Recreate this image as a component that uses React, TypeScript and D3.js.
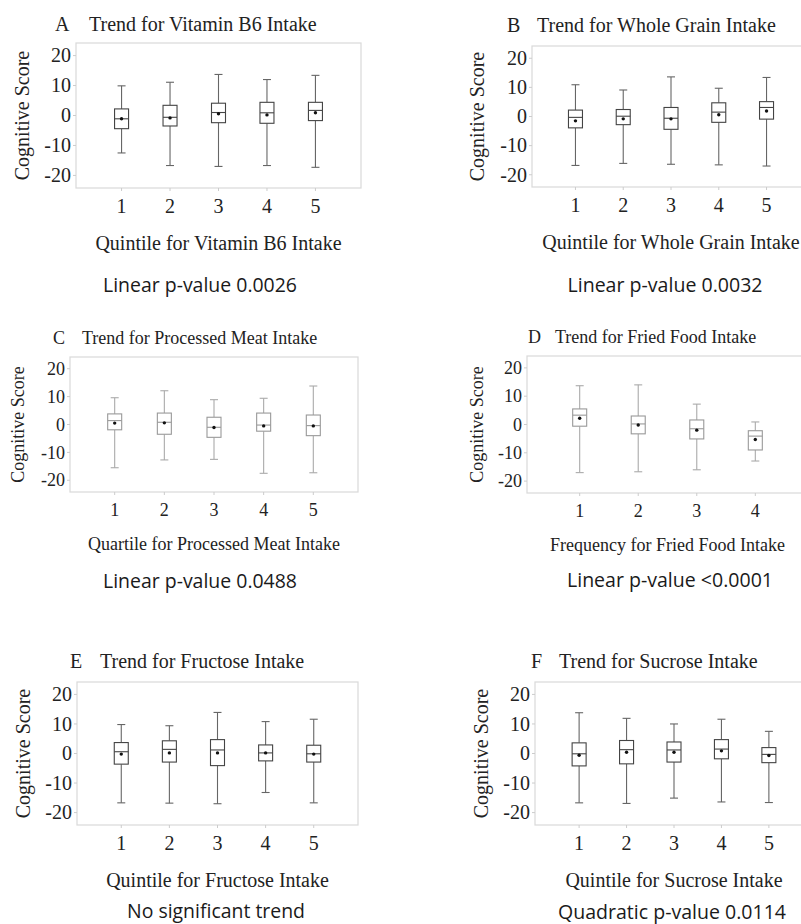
import * as d3 from "d3";
import React from "react";

// box statistics: whisker low, Q1, median, mean, Q3, whisker high
const vitaminB6 = [
  { lo: -12.5, q1: -4.4, med: -1.1, mean: -1.1, q3: 2.2, hi: 9.9 },
  { lo: -16.7, q1: -3.5, med: -0.6, mean: -0.8, q3: 3.4, hi: 11.1 },
  { lo: -17.0, q1: -2.4, med: 1.0, mean: 0.6, q3: 4.1, hi: 13.7 },
  { lo: -16.7, q1: -2.6, med: 0.9, mean: 0.2, q3: 4.4, hi: 12.0 },
  { lo: -17.3, q1: -1.7, med: 1.7, mean: 0.9, q3: 4.4, hi: 13.4 },
];
const wholeGrain = [
  { lo: -16.8, q1: -3.9, med: -0.3, mean: -1.5, q3: 2.2, hi: 10.9 },
  { lo: -16.1, q1: -2.8, med: 0.1, mean: -0.8, q3: 2.4, hi: 9.1 },
  { lo: -16.4, q1: -4.4, med: -0.6, mean: -0.8, q3: 3.1, hi: 13.6 },
  { lo: -16.6, q1: -2.0, med: 1.5, mean: 0.6, q3: 4.7, hi: 9.7 },
  { lo: -17.0, q1: -0.9, med: 3.1, mean: 1.9, q3: 5.1, hi: 13.4 },
];
const processedMeat = [
  { lo: -15.5, q1: -1.9, med: 1.4, mean: 0.5, q3: 3.8, hi: 9.6 },
  { lo: -12.7, q1: -3.5, med: 0.8, mean: 0.6, q3: 4.1, hi: 12.1 },
  { lo: -12.5, q1: -4.6, med: -1.0, mean: -1.1, q3: 2.6, hi: 8.9 },
  { lo: -17.5, q1: -2.4, med: -0.2, mean: -0.5, q3: 4.1, hi: 9.4 },
  { lo: -17.3, q1: -4.0, med: -0.4, mean: -0.5, q3: 3.4, hi: 13.8 },
];
const friedFood = [
  { lo: -17.0, q1: -0.6, med: 3.3, mean: 2.2, q3: 5.5, hi: 13.7 },
  { lo: -16.7, q1: -3.3, med: 0.2, mean: -0.2, q3: 3.0, hi: 14.0 },
  { lo: -16.0, q1: -5.1, med: -1.5, mean: -2.0, q3: 1.6, hi: 7.2 },
  { lo: -12.9, q1: -9.0, med: -4.1, mean: -5.3, q3: -2.2, hi: 0.9 },
];
const fructose = [
  { lo: -16.7, q1: -3.6, med: 0.6, mean: -0.2, q3: 3.7, hi: 9.8 },
  { lo: -16.8, q1: -2.9, med: 1.4, mean: 0.2, q3: 4.3, hi: 9.4 },
  { lo: -17.0, q1: -4.1, med: 1.2, mean: 0.2, q3: 4.7, hi: 13.9 },
  { lo: -13.2, q1: -2.5, med: 0.2, mean: 0.2, q3: 2.9, hi: 10.8 },
  { lo: -16.7, q1: -2.9, med: -0.1, mean: -0.2, q3: 2.8, hi: 11.6 },
];
const sucrose = [
  { lo: -16.7, q1: -4.2, med: -0.1, mean: -0.6, q3: 3.6, hi: 13.8 },
  { lo: -16.9, q1: -3.5, med: 1.3, mean: 0.4, q3: 4.4, hi: 11.9 },
  { lo: -15.1, q1: -2.9, med: 1.2, mean: 0.4, q3: 3.9, hi: 10.0 },
  { lo: -16.4, q1: -1.8, med: 1.5, mean: 0.9, q3: 4.7, hi: 11.6 },
  { lo: -16.6, q1: -3.1, med: -0.3, mean: -0.7, q3: 2.0, hi: 7.5 },
];

const yTicks = [-20, -10, 0, 10, 20];
const quintiles = ["1", "2", "3", "4", "5"];
const frequencies = ["1", "2", "3", "4"];

const serif = "'Liberation Serif', 'Times New Roman', serif";
const sans = "'Open Sans', 'Noto Sans', sans-serif";

const panels = [
  {
    letter: "A", title: "Trend for Vitamin B6 Intake", xLabel: "Quintile for Vitamin B6 Intake",
    note: "Linear p-value 0.0026", stats: vitaminB6, cats: quintiles,
    left: 76, right: 361, top: 43, bottom: 188, xPad: 0.94, fs: 20, box: "#444", whisker: "#666",
    letterX: 55, titleX: 89, titleY: 31, yLabX: 29, noteX: 200, noteY: 292, noteW: 194,
  },
  {
    letter: "B", title: "Trend for Whole Grain Intake", xLabel: "Quintile for Whole Grain Intake",
    note: "Linear p-value 0.0032", stats: wholeGrain, cats: quintiles,
    left: 532, right: 810, top: 46, bottom: 187, xPad: 0.91, fs: 20, box: "#444", whisker: "#666",
    letterX: 507, titleX: 537, titleY: 32, yLabX: 484, noteX: 665, noteY: 292, noteW: 195,
  },
  {
    letter: "C", title: "Trend for Processed Meat Intake", xLabel: "Quartile for Processed Meat Intake",
    note: "Linear p-value 0.0488", stats: processedMeat, cats: quintiles,
    left: 70, right: 358, top: 357, bottom: 492, xPad: 0.9, fs: 18, box: "#999", whisker: "#aaa",
    letterX: 53, titleX: 82, titleY: 344, yLabX: 24, noteX: 200, noteY: 588, noteW: 194,
  },
  {
    letter: "D", title: "Trend for Fried Food Intake", xLabel: "Frequency for Fried Food Intake",
    note: "Linear p-value <0.0001", stats: friedFood, cats: frequencies,
    left: 527, right: 808, top: 356, bottom: 493, xPad: 0.9, fs: 18, box: "#999", whisker: "#aaa",
    letterX: 528, titleX: 555, titleY: 343, yLabX: 483, noteX: 670, noteY: 587, noteW: 206,
  },
  {
    letter: "E", title: "Trend for Fructose Intake", xLabel: "Quintile for Fructose Intake",
    note: "No significant trend", stats: fructose, cats: quintiles,
    left: 77, right: 358, top: 682, bottom: 825, xPad: 0.92, fs: 20, box: "#444", whisker: "#666",
    letterX: 70, titleX: 100, titleY: 668, yLabX: 30, noteX: 216, noteY: 918, noteW: 178,
  },
  {
    letter: "F", title: "Trend for Sucrose Intake", xLabel: "Quintile for Sucrose Intake",
    note: "Quadratic p-value 0.0114", stats: sucrose, cats: quintiles,
    left: 535, right: 813, top: 682, bottom: 825, xPad: 0.93, fs: 20, box: "#444", whisker: "#666",
    letterX: 531, titleX: 559, titleY: 668, yLabX: 488, noteX: 672, noteY: 919, noteW: 228,
  },
];

const BoxPanel = ({ p }) => {
  const n = p.cats.length;
  const x = d3.scaleLinear().domain([1 - p.xPad, n + p.xPad]).range([p.left, p.right]);
  const y = d3.scaleLinear().domain([-24.2, 24.2]).range([p.bottom, p.top]);
  const boxW = 14;
  const capW = 8;
  const midY = (p.top + p.bottom) / 2;
  const tickGap = p.fs === 20 ? 25 : 24;

  return (
    <g>
      <text x={p.letterX} y={p.titleY} fontFamily={serif} fontSize={p.fs} fill="#222">{p.letter}</text>
      <text x={p.titleX} y={p.titleY} fontFamily={serif} fontSize={p.fs} fill="#222">{p.title}</text>

      <rect x={p.left} y={p.top} width={p.right - p.left} height={p.bottom - p.top}
        fill="none" stroke="#d9d9d9" strokeWidth={1.2} />

      {yTicks.map(t => (
        <g key={t}>
          <line x1={p.left - 3} x2={p.left} y1={y(t)} y2={y(t)} stroke="#ccc" />
          <text x={p.left - 5} y={y(t)} dy="0.34em" textAnchor="end"
            fontFamily={serif} fontSize={p.fs} fill="#222">{t}</text>
        </g>
      ))}

      {p.cats.map((c, i) => (
        <g key={c}>
          <line x1={x(i + 1)} x2={x(i + 1)} y1={p.bottom} y2={p.bottom + 3} stroke="#ccc" />
          <text x={x(i + 1)} y={p.bottom + tickGap} textAnchor="middle"
            fontFamily={serif} fontSize={p.fs} fill="#222">{c}</text>
        </g>
      ))}

      <text transform={`translate(${p.yLabX},${midY}) rotate(-90)`} textAnchor="middle"
        fontFamily={serif} fontSize={p.fs} fill="#222">Cognitive Score</text>
      <text x={x((n + 1) / 2)} y={p.bottom + (p.fs === 20 ? 62 : 58)} textAnchor="middle"
        fontFamily={serif} fontSize={p.fs} fill="#222">{p.xLabel}</text>

      {p.stats.map((s, i) => {
        const cx = x(i + 1);
        return (
          <g key={i} strokeWidth={1.1} fill="none">
            <g stroke={p.whisker}>
              <line x1={cx} x2={cx} y1={y(s.hi)} y2={y(s.q3)} />
              <line x1={cx} x2={cx} y1={y(s.q1)} y2={y(s.lo)} />
              <line x1={cx - capW / 2} x2={cx + capW / 2} y1={y(s.hi)} y2={y(s.hi)} />
              <line x1={cx - capW / 2} x2={cx + capW / 2} y1={y(s.lo)} y2={y(s.lo)} />
            </g>
            <g stroke={p.box}>
              <rect x={cx - boxW / 2} y={y(s.q3)} width={boxW} height={y(s.q1) - y(s.q3)} fill="#fff" />
              <line x1={cx - boxW / 2} x2={cx + boxW / 2} y1={y(s.med)} y2={y(s.med)} />
            </g>
            <circle cx={cx} cy={y(s.mean)} r={1.7} fill="#111" stroke="none" />
          </g>
        );
      })}

      <text x={p.noteX} y={p.noteY} textAnchor="middle" fontFamily={sans} fontSize={20}
        textLength={p.noteW} lengthAdjust="spacingAndGlyphs" fill="#1a1a1a">{p.note}</text>
    </g>
  );
};

const App = () => {
  return (
    <div>
      <style>{`body { margin: 0; overflow: hidden; }`}</style>
      <svg width={801} height={924} style={{ display: "block", background: "#fff" }}>
        {panels.map(p => <BoxPanel key={p.letter} p={p} />)}
      </svg>
    </div>
  );
};

export default App;
